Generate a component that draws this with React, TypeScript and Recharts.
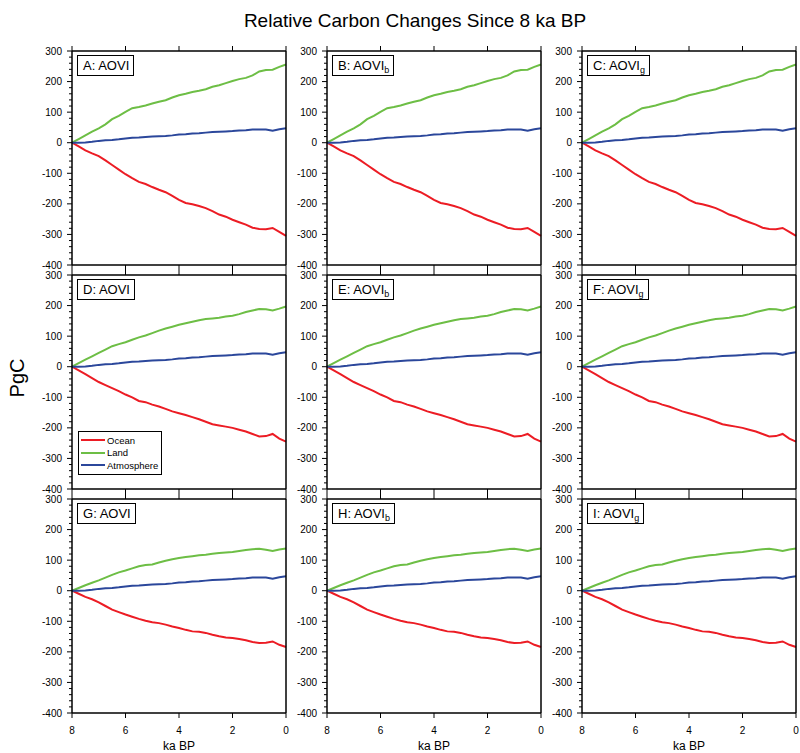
import React from 'react';
import { LineChart, Line, XAxis, YAxis, ReferenceLine, Legend } from 'recharts';

// time axis, ka BP (8 -> 0)
const KA = [8, 7.75, 7.5, 7.25, 7, 6.75, 6.5, 6.25, 6, 5.75, 5.5, 5.25, 5, 4.75, 4.5, 4.25, 4, 3.75, 3.5, 3.25, 3, 2.75, 2.5, 2.25, 2, 1.75, 1.5, 1.25, 1, 0.75, 0.5, 0.25, 0];

// one array per row of panels (A-C, D-F, G-I)
const OCEAN_ROWS = [
  [0, -12, -25, -35, -44, -58, -73, -88, -103, -116, -128, -135, -145, -154, -162, -174, -187, -197, -201, -207, -214, -224, -235, -242, -252, -260, -268, -278, -282, -283, -279, -292, -305],
  [0, -12, -24, -37, -50, -60, -70, -80, -91, -100, -112, -116, -124, -130, -138, -146, -152, -158, -165, -172, -180, -188, -192, -196, -200, -206, -212, -220, -228, -227, -220, -235, -245],
  [0, -10, -20, -28, -38, -50, -62, -70, -78, -85, -92, -98, -103, -106, -111, -117, -122, -128, -133, -134, -138, -144, -149, -153, -155, -158, -162, -168, -171, -170, -166, -177, -184],
];

const LAND_ROWS = [
  [0, 12, 24, 36, 47, 60, 77, 88, 101, 113, 117, 122, 128, 134, 139, 148, 155, 160, 166, 170, 175, 183, 188, 195, 202, 208, 212, 220, 233, 238, 239, 248, 256],
  [0, 12, 23, 34, 45, 56, 67, 74, 80, 88, 96, 102, 110, 118, 125, 131, 137, 142, 147, 152, 156, 158, 160, 164, 167, 172, 179, 184, 189, 188, 184, 190, 197],
  [0, 9, 18, 26, 34, 43, 52, 60, 66, 73, 80, 84, 86, 92, 98, 103, 107, 110, 113, 116, 118, 121, 123, 125, 127, 130, 133, 136, 137, 134, 130, 135, 138],
];

const ATMOSPHERE = [0, 0, 1, 3, 6, 8, 9, 11, 14, 16, 17, 19, 20, 21, 22, 24, 27, 28, 30, 31, 33, 35, 36, 37, 38, 40, 41, 43, 43, 43, 39, 44, 47];

const SERIES = [
  { key: 'ocean', name: 'Ocean', color: '#EC1C24' },
  { key: 'land', name: 'Land', color: '#6DBE45' },
  { key: 'atmos', name: 'Atmosphere', color: '#2B479B' },
];

const PANEL_LETTERS = [['A', 'B', 'C'], ['D', 'E', 'F'], ['G', 'H', 'I']];
const MODEL_SUBS = ['', 'b', 'g'];

const X_TICKS = [8, 6, 4, 2, 0];
const Y_TICKS: number[] = [];
for (let v = -400; v <= 300; v += 20) Y_TICKS.push(v);

const FONT = '"Liberation Sans", Arial, Helvetica, sans-serif';

// layout
const COL_LEFT = [72, 327, 582];
const ROW_TOP = [51, 275, 499];
const PLOT = 214;
const AXIS_W = 56;

const LeftTick = (p: any) => {
  const major = p.payload.value % 100 === 0;
  return (
    <g>
      <line x1={p.x} x2={p.x - (major ? 5 : 3)} y1={p.y} y2={p.y} stroke="#000" strokeWidth={1} />
      {major && (
        <text x={p.x - 10} y={p.y} dy={3.5} textAnchor="end" fontSize={10} fill="#000" fontFamily={FONT}>
          {p.payload.value}
        </text>
      )}
    </g>
  );
};

const RightTick = (p: any) => {
  const major = p.payload.value % 100 === 0;
  return <line x1={p.x} x2={p.x + (major ? 5 : 3)} y1={p.y} y2={p.y} stroke="#000" strokeWidth={1} />;
};

const TopTick = (p: any) => <line x1={p.x} x2={p.x} y1={p.y} y2={p.y - 5} stroke="#000" strokeWidth={1} />;

const makeBottomTick = (showLabel: boolean) => (p: any) => (
  <g>
    <line x1={p.x} x2={p.x} y1={p.y} y2={p.y + 5} stroke="#000" strokeWidth={1} />
    {showLabel && (
      <text x={p.x} y={p.y + 21} textAnchor="middle" fontSize={10} fill="#000" fontFamily={FONT}>
        {p.payload.value}
      </text>
    )}
  </g>
);

const LegendBox = () => (
  <div style={{ border: '1px solid #000', background: '#fff', padding: '2px 3px 2px 2px', fontFamily: FONT, fontSize: 9.5 }}>
    {SERIES.map((s) => (
      <div key={s.key} style={{ display: 'flex', alignItems: 'center', height: 12.5 }}>
        <span style={{ display: 'inline-block', width: 24, height: 2, background: s.color, marginRight: 2 }} />
        <span>{s.name}</span>
      </div>
    ))}
  </div>
);

const Panel = ({ row, col }: { row: number; col: number }) => {
  const data = KA.map((ka, i) => ({ ka, ocean: OCEAN_ROWS[row][i], land: LAND_ROWS[row][i], atmos: ATMOSPHERE[i] }));
  const isBottom = row === 2;
  const bottomH = isBottom ? 40 : 10;
  const axisLine = { stroke: '#000', strokeWidth: 1.5 };
  return (
    <div style={{ position: 'absolute', left: COL_LEFT[col] - AXIS_W, top: ROW_TOP[row] - 10 }}>
      <LineChart width={AXIS_W + PLOT + 10} height={10 + PLOT + bottomH} data={data} margin={{ top: 0, right: 0, bottom: 0, left: 0 }}>
        <XAxis
          dataKey="ka"
          type="number"
          domain={[0, 8]}
          reversed
          ticks={X_TICKS}
          interval={0}
          height={bottomH}
          axisLine={axisLine}
          tickLine={false}
          tickSize={0}
          tickMargin={0}
          tick={makeBottomTick(isBottom)}
          label={isBottom ? { value: 'ka BP', position: 'insideBottom', offset: 3, fontSize: 12, fill: '#000', fontFamily: FONT } : undefined}
        />
        <XAxis
          xAxisId="top"
          orientation="top"
          dataKey="ka"
          type="number"
          domain={[0, 8]}
          reversed
          ticks={X_TICKS}
          interval={0}
          height={10}
          axisLine={axisLine}
          tickLine={false}
          tickSize={0}
          tickMargin={0}
          tick={TopTick}
        />
        <YAxis
          type="number"
          domain={[-400, 300]}
          ticks={Y_TICKS}
          interval={0}
          width={AXIS_W}
          axisLine={axisLine}
          tickLine={false}
          tickSize={0}
          tickMargin={0}
          tick={LeftTick}
        />
        <YAxis
          yAxisId="r"
          orientation="right"
          type="number"
          domain={[-400, 300]}
          ticks={Y_TICKS}
          interval={0}
          width={10}
          axisLine={axisLine}
          tickLine={false}
          tickSize={0}
          tickMargin={0}
          tick={RightTick}
        />
        <ReferenceLine y={0} xAxisId="top" yAxisId="r" stroke="#222" strokeWidth={1.2} />
        {SERIES.map((s) => (
          <Line key={s.key} dataKey={s.key} name={s.name} type="linear" stroke={s.color} strokeWidth={2} dot={false} isAnimationActive={false} />
        ))}
        {row === 1 && col === 0 && (
          <Legend
            layout="horizontal"
            verticalAlign="middle"
            align="center"
            content={() => <LegendBox />}
            wrapperStyle={{ left: 62, top: 166, width: 'auto', height: 'auto' }}
          />
        )}
      </LineChart>
      <div
        style={{
          position: 'absolute',
          left: AXIS_W + 5,
          top: 10 + 4,
          border: '1px solid #000',
          background: '#fff',
          padding: '1px 4px 1px 5px',
          fontFamily: FONT,
          fontSize: 13,
          lineHeight: '17px',
          whiteSpace: 'nowrap',
        }}
      >
        {PANEL_LETTERS[row][col]}: AOVI
        {MODEL_SUBS[col] && <sub style={{ fontSize: 9, verticalAlign: '-3px', lineHeight: 0 }}>{MODEL_SUBS[col]}</sub>}
      </div>
    </div>
  );
};

export default function App() {
  return (
    <div style={{ position: 'absolute', left: 0, top: 0, width: 800, height: 753, background: '#fff', overflow: 'hidden' }}>
      <svg width={800} height={753} style={{ position: 'absolute', left: 0, top: 0 }}>
        <text x={415} y={27} textAnchor="middle" fontSize={19} fontFamily={FONT} fill="#000">
          Relative Carbon Changes Since 8 ka BP
        </text>
        <text x={24} y={378} textAnchor="middle" fontSize={20} fontFamily={FONT} fill="#000" transform="rotate(-90 24 378)">
          PgC
        </text>
      </svg>
      {[0, 1, 2].map((r) => [0, 1, 2].map((c) => <Panel key={`${r}-${c}`} row={r} col={c} />))}
    </div>
  );
}
